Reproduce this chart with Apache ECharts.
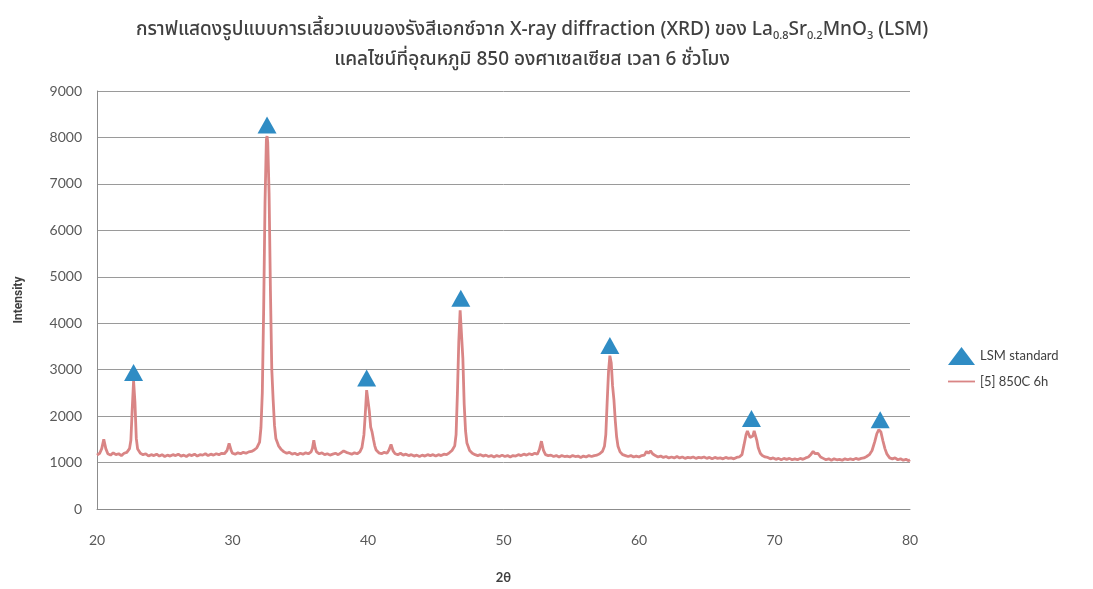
<!DOCTYPE html>
<html>
<head>
<meta charset="utf-8">
<script src="https://cdn.jsdelivr.net/npm/echarts@6/dist/echarts.min.js"></script>
<style>
  html, body { margin: 0; padding: 0; background: #fff; }
  #chart { width: 1093px; height: 589px; }
</style>
</head>
<body>
<div id="chart"></div>
<script>
// 2θ (degrees) and measured intensity of [5] 850C 6h
const twoTheta = [
  20.0, 20.2, 20.35, 20.5, 20.65, 20.8, 21.0, 21.2, 21.4, 21.6, 21.8, 22.0, 22.2, 22.4, 22.5, 22.6, 22.7, 22.8, 22.9, 23.0,
  23.2, 23.4, 23.6, 23.8, 24.0, 24.2, 24.4, 24.6, 24.8, 25.0, 25.2, 25.4, 25.6, 25.8, 26.0, 26.2, 26.4, 26.6, 26.8, 27.0,
  27.2, 27.4, 27.6, 27.8, 28.0, 28.2, 28.4, 28.6, 28.8, 29.0, 29.2, 29.4, 29.6, 29.75, 29.9, 30.0, 30.2, 30.4, 30.6, 30.8,
  31.0, 31.2, 31.4, 31.6, 31.8, 32.0, 32.1, 32.2, 32.3, 32.4, 32.5, 32.55, 32.6, 32.7, 32.8, 32.9, 33.0, 33.1, 33.2, 33.4,
  33.6, 33.8, 34.0, 34.2, 34.4, 34.6, 34.8, 35.0, 35.2, 35.4, 35.6, 35.8, 35.9, 36.0, 36.1, 36.2, 36.4, 36.6, 36.8, 37.0,
  37.2, 37.4, 37.6, 37.8, 38.0, 38.2, 38.3, 38.4, 38.6, 38.8, 39.0, 39.2, 39.4, 39.55, 39.7, 39.8, 39.9, 40.0, 40.1, 40.2,
  40.3, 40.4, 40.5, 40.6, 40.8, 41.0, 41.2, 41.4, 41.55, 41.7, 41.85, 42.0, 42.2, 42.4, 42.6, 42.8, 43.0, 43.2, 43.4, 43.6,
  43.8, 44.0, 44.2, 44.4, 44.6, 44.8, 45.0, 45.2, 45.4, 45.6, 45.8, 46.0, 46.2, 46.4, 46.5, 46.6, 46.7, 46.8, 46.9, 47.0,
  47.1, 47.2, 47.3, 47.5, 47.7, 47.9, 48.1, 48.3, 48.5, 48.7, 48.9, 49.1, 49.3, 49.5, 49.7, 49.9, 50.1, 50.3, 50.5, 50.7,
  50.9, 51.1, 51.3, 51.5, 51.7, 51.9, 52.1, 52.3, 52.5, 52.65, 52.8, 52.95, 53.1, 53.3, 53.5, 53.7, 53.9, 54.1, 54.3, 54.5,
  54.7, 54.9, 55.1, 55.3, 55.5, 55.7, 55.9, 56.1, 56.3, 56.5, 56.7, 56.9, 57.1, 57.3, 57.45, 57.55, 57.65, 57.75, 57.85, 57.95,
  58.05, 58.15, 58.25, 58.35, 58.45, 58.6, 58.8, 59.0, 59.2, 59.4, 59.6, 59.8, 60.0, 60.2, 60.4, 60.55, 60.7, 60.85, 61.0, 61.2,
  61.4, 61.6, 61.8, 62.0, 62.2, 62.4, 62.6, 62.8, 63.0, 63.2, 63.4, 63.6, 63.8, 64.0, 64.2, 64.4, 64.6, 64.8, 65.0, 65.2,
  65.4, 65.6, 65.8, 66.0, 66.2, 66.4, 66.6, 66.8, 67.0, 67.2, 67.4, 67.6, 67.75, 67.9, 68.0, 68.1, 68.2, 68.3, 68.4, 68.5,
  68.6, 68.7, 68.8, 68.95, 69.1, 69.3, 69.5, 69.7, 69.9, 70.1, 70.3, 70.5, 70.7, 70.9, 71.1, 71.3, 71.5, 71.7, 71.9, 72.1,
  72.3, 72.5, 72.7, 72.85, 73.0, 73.2, 73.4, 73.6, 73.8, 74.0, 74.2, 74.4, 74.6, 74.8, 75.0, 75.2, 75.4, 75.6, 75.8, 76.0,
  76.2, 76.4, 76.6, 76.8, 77.0, 77.2, 77.4, 77.55, 77.7, 77.85, 78.0, 78.15, 78.3, 78.5, 78.7, 78.9, 79.1, 79.3, 79.5, 79.7,
  79.9, 80.0
]
const intensity = [
  1160, 1200, 1300, 1500, 1300, 1190, 1160, 1210, 1170, 1190, 1150, 1200, 1220, 1300, 1480, 2150, 2760, 2300, 1520, 1290,
  1200, 1170, 1190, 1140, 1170, 1150, 1180, 1140, 1170, 1130, 1160, 1140, 1170, 1150, 1180, 1140, 1160, 1130, 1170, 1150,
  1180, 1140, 1170, 1160, 1190, 1150, 1180, 1160, 1190, 1170, 1200, 1190, 1260, 1410, 1260, 1200, 1180, 1210, 1190, 1220,
  1200, 1230, 1240, 1270, 1320, 1440, 1750, 2500, 4300, 6600, 7950, 8030, 7900, 6800, 4700, 3000, 2350, 1800, 1520, 1360,
  1280, 1230, 1200, 1220, 1180, 1200, 1170, 1200, 1180, 1210, 1190, 1230, 1310, 1480, 1320, 1230, 1190, 1210, 1170, 1190,
  1160, 1180, 1200, 1170, 1210, 1250, 1270, 1220, 1200, 1180, 1210, 1190, 1230, 1320, 1600, 2050, 2560, 2580, 2100, 1760,
  1660, 1500, 1360, 1270, 1210, 1190, 1220, 1200, 1270, 1390, 1250, 1190, 1170, 1200, 1160, 1180, 1150, 1170, 1140, 1160,
  1130, 1160, 1140, 1170, 1150, 1170, 1140, 1170, 1150, 1180, 1170, 1210, 1260, 1360, 1600, 2500, 3600, 4280, 4260, 3250,
  2250, 1680, 1420, 1260, 1200, 1170, 1150, 1170, 1140, 1160, 1130, 1150, 1120, 1150, 1130, 1160, 1130, 1150, 1120, 1150,
  1140, 1170, 1150, 1180, 1160, 1190, 1170, 1200, 1180, 1280, 1460, 1260, 1170, 1150, 1160, 1130, 1150, 1120, 1150, 1130,
  1140, 1120, 1150, 1130, 1140, 1110, 1140, 1120, 1150, 1130, 1150, 1160, 1190, 1240, 1350, 1600, 2300, 2950, 3300, 3150,
  2650, 2350, 1900, 1550, 1350, 1230, 1170, 1150, 1130, 1150, 1120, 1140, 1120, 1150, 1160, 1240, 1200, 1250, 1190, 1150,
  1120, 1140, 1110, 1130, 1100, 1120, 1100, 1130, 1100, 1120, 1090, 1110, 1100, 1120, 1090, 1110, 1100, 1120, 1090, 1110,
  1080, 1110, 1090, 1100, 1080, 1110, 1090, 1100, 1080, 1110, 1120, 1170, 1380, 1600, 1680, 1640, 1540, 1500, 1570, 1680,
  1660, 1470, 1320, 1200, 1150, 1120, 1110, 1080, 1100, 1070, 1090, 1060, 1090, 1070, 1090, 1060, 1080, 1060, 1090, 1070,
  1100, 1120, 1180, 1240, 1190, 1200, 1120, 1090, 1060, 1080, 1050, 1080, 1060, 1070, 1050, 1080, 1060, 1080, 1060, 1090,
  1070, 1090, 1100, 1130, 1170, 1260, 1450, 1620, 1710, 1660, 1470, 1300, 1180, 1100, 1080, 1100, 1060, 1080, 1050, 1070,
  1040, 1060
]
// LSM standard reference peaks
const lsmTheta = [22.7, 32.55, 39.9, 46.85, 57.85, 68.3, 77.8]
const lsmIntensity = [2940, 8270, 2820, 4540, 3520, 1950, 1920]

const seriesNames = ['LSM standard', '[5] 850C 6h']

const dom = document.getElementById('chart')
const chart = echarts.init(dom)

const labelFont = 'Lato, "Open Sans", sans-serif'

let option = {
  animation: false,
  backgroundColor: '#fff',
  title: {
    text: 'กราฟแสดงรูปแบบการเลี้ยวเบนของรังสีเอกซ์จาก X-ray diffraction (XRD) ของ La{sub|0.8}Sr{sub|0.2}MnO{sub|3} (LSM)\nแคลไซน์ที่อุณหภูมิ 850 องศาเซลเซียส เวลา 6 ชั่วโมง',
    left: 527,
    top: 11,
    textAlign: 'center',
    textStyle: {
      fontFamily: '"Noto Sans Thai", "Noto Sans", sans-serif',
      fontSize: 19,
      fontWeight: 500,
      color: '#404040',
      lineHeight: 30,
      rich: {
        sub: {
          fontFamily: '"Noto Sans", sans-serif',
          fontSize: 11,
          color: '#404040',
          lineHeight: 14,
          padding: [10, 0, 0, 0],
          verticalAlign: 'middle',
        },
      },
    },
  },
  legend: {
    orient: 'vertical',
    left: 943,
    top: 342,
    itemWidth: 27,
    itemHeight: 18,
    itemGap: 10,
    textStyle: {
      fontFamily: labelFont,
      fontSize: 13,
      color: '#404040',
    },
    data: [
      { name: seriesNames[0], icon: 'triangle' },
      { name: seriesNames[1], icon: 'path://M0,0H30V2H0Z' },
    ],
  },
  grid: {
    left: 97,
    right: 183,
    top: 91,
    bottom: 76,
  },
  xAxis: {
    type: 'value',
    min: 20,
    max: 80,
    interval: 10,
    name: '2θ',
    nameLocation: 'middle',
    nameGap: 62,
    nameTextStyle: {
      fontFamily: labelFont,
      fontSize: 13,
      fontWeight: 'bold',
      color: '#404040',
    },
    axisLine: { show: true, lineStyle: { color: '#8c8c8c', width: 1 } },
    axisTick: { show: false },
    splitLine: { show: false },
    axisLabel: {
      margin: 24,
      fontFamily: labelFont,
      fontSize: 14,
      color: '#595959',
    },
  },
  yAxis: {
    type: 'value',
    min: 0,
    max: 9000,
    interval: 1000,
    name: 'Intensity',
    nameLocation: 'middle',
    nameGap: 72,
    nameRotate: 90,
    nameTextStyle: {
      fontFamily: '"Liberation Sans Narrow", "Roboto", sans-serif',
      fontSize: 12,
      fontWeight: 'bold',
      color: '#404040',
    },
    axisLine: { show: true, lineStyle: { color: '#8c8c8c', width: 1 } },
    axisTick: { show: false },
    splitLine: { show: true, lineStyle: { color: '#9a9a9a', width: 1 } },
    axisLabel: {
      margin: 15,
      fontFamily: labelFont,
      fontSize: 14,
      color: '#595959',
      formatter: (v) => String(v),
    },
  },
  series: [
    {
      name: seriesNames[0],
      type: 'scatter',
      symbol: 'triangle',
      symbolSize: [19, 17],
      z: 3,
      itemStyle: { color: '#2f8cc4', opacity: 1 },
      data: lsmTheta.map((t, i) => [t, lsmIntensity[i]]),
    },
    {
      name: seriesNames[1],
      type: 'line',
      symbol: 'none',
      z: 2,
      lineStyle: { color: '#d98585', width: 2.8 },
      itemStyle: { color: '#d98585' },
      data: twoTheta.map((t, i) => [t, intensity[i]]),
    },
  ],
}

chart.setOption(option)

window.addEventListener('resize', () => {
  chart.resize()
})
</script>
</body>
</html>
